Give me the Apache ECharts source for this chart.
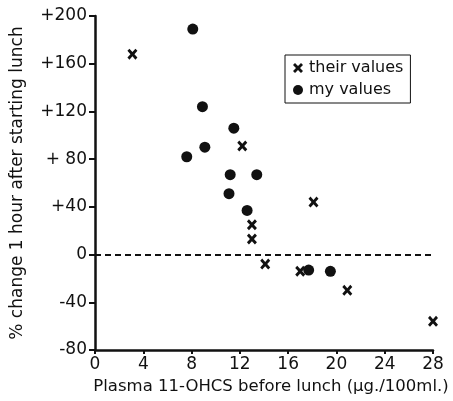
<!DOCTYPE html>
<html><head><meta charset="utf-8">
<script src="https://cdn.jsdelivr.net/npm/echarts@6/dist/echarts.min.js"></script>
<style>html,body{margin:0;padding:0;background:#fff}#c{width:453px;height:401px}</style>
</head><body><div id="c"></div>
<script>
// Data
const theirX = [3.1, 12.2, 18.1, 13.0, 13.0, 14.1, 17.0, 20.9, 28.0];
const theirY = [168, 91, 44, 25, 13, -8, -14, -30, -56];
const myX = [8.1, 8.9, 11.5, 9.1, 7.6, 11.2, 13.4, 11.1, 12.6, 17.7, 19.5];
const myY = [189, 124, 106, 90, 82, 67, 67, 51, 37, -13, -14];
const xTicks = [0, 4, 8, 12, 16, 20, 24, 28];
const yTickLabels = {'-80':'-80','-40':'-40','0':'0','40':'+40','80':'+ 80','120':'+120','160':'+160','200':'+200'};

const FONT = 'DejaVu Sans';
const INK = '#111';
const crossPath = 'path://M0,2L2,0L5,3L8,0L10,2L7,5L10,8L8,10L5,7L2,10L0,8L3,5Z';

const chart = echarts.init(document.getElementById('c'), null, {renderer:'canvas'});
chart.setOption({
  animation:false,
  backgroundColor:'#fff',
  grid:{left:95, top:16, width:338, height:334, containLabel:false, outerBoundsMode:'none'},
  legend:{
    orient:'vertical', left:285, top:55,
    borderColor:INK, borderWidth:1, padding:[5,7,5,8],
    itemGap:6, itemWidth:12, itemHeight:10,
    textStyle:{fontFamily:FONT, fontSize:16, color:INK},
    data:[{name:'their values', icon:crossPath},{name:'my values', icon:'circle'}]
  },
  xAxis:{
    type:'value', min:0, max:28, interval:4,
    name:'Plasma 11-OHCS before lunch (μg./100ml.)',
    nameLocation:'middle', nameGap:27,
    nameTextStyle:{fontFamily:FONT, fontSize:16.5, color:INK, padding:[0,0,0,14]},
    axisLine:{show:true, onZero:false, lineStyle:{color:INK, width:2.5}},
    axisTick:{show:true, inside:false, length:4, lineStyle:{color:INK, width:2}},
    axisLabel:{fontFamily:FONT, fontSize:17, color:INK, margin:6,
      formatter:v=>xTicks.includes(v)?String(v):''},
    splitLine:{show:false}
  },
  yAxis:{
    type:'value', min:-80, max:200, interval:40,
    name:'% change 1 hour after starting lunch',
    nameLocation:'middle', nameGap:69, nameRotate:90,
    nameTextStyle:{fontFamily:FONT, fontSize:17, color:INK},
    axisLine:{show:true, onZero:false, lineStyle:{color:INK, width:2.5}},
    axisTick:{show:true, inside:false, length:6, lineStyle:{color:INK, width:2}},
    axisLabel:{fontFamily:FONT, fontSize:17, color:INK, margin:8,
      formatter:v=>yTickLabels[String(v)]},
    splitLine:{show:false}
  },
  series:[
    {name:'their values', type:'scatter', symbol:crossPath, symbolSize:[10,11],
     itemStyle:{color:INK, opacity:1}, data:theirX.map((x,i)=>[x,theirY[i]]),
     markLine:{silent:true, symbol:'none', label:{show:false},
       lineStyle:{color:INK, type:[6,4], width:2},
       data:[{yAxis:0}]}},
    {name:'my values', type:'scatter', symbol:'circle', symbolSize:11,
     itemStyle:{color:INK, opacity:1}, data:myX.map((x,i)=>[x,myY[i]])}
  ]
});
</script></body></html>
